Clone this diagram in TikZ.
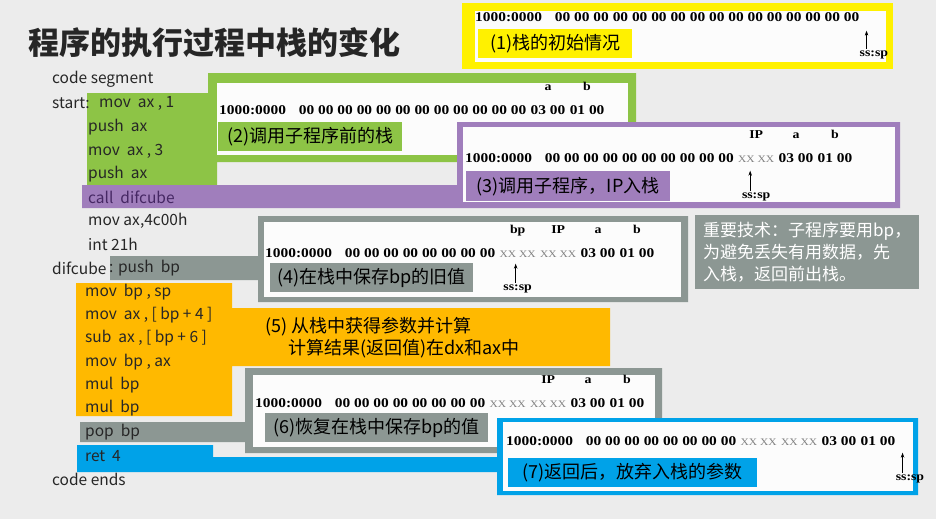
\documentclass[tikz,border=0pt]{standalone}
\usepackage{fontspec}
\setmainfont{Liberation Serif}
\newfontfamily\cjk{Noto Sans CJK SC}
\newfontfamily\memfont{Liberation Serif}[FakeStretch=1.15]
\usetikzlibrary{arrows.meta, positioning}

\definecolor{slidebg}{RGB}{236,236,236}
\definecolor{stackyellow}{RGB}{255,241,0}
\definecolor{stackgreen}{RGB}{141,196,70}
\definecolor{stackpurple}{RGB}{160,126,188}
\definecolor{stackgrey}{RGB}{140,151,147}
\definecolor{stackorange}{RGB}{255,185,0}
\definecolor{stackblue}{RGB}{0,162,232}
\definecolor{calltext}{RGB}{70,40,100}
\definecolor{cellwhite}{RGB}{252,252,252}

\begin{document}
\begin{tikzpicture}[x=1pt, y=-1pt,
    code/.style={anchor=west, inner sep=0pt, text=black!85, font=\cjk\fontsize{15.5}{15.5}\selectfont},
    mem/.style={inner sep=0pt, text height=9pt, text depth=0pt, font=\memfont\bfseries\fontsize{13.4}{13.4}\selectfont},
    memx/.style={mem, text=black!50, font=\memfont\fontsize{10}{10}\selectfont},
    tag/.style={inner sep=0pt, text height=8pt, text depth=2pt, font=\memfont\bfseries\fontsize{12}{12}\selectfont},
    stepbox/.style={fill=#1, anchor=north west, inner sep=0pt, minimum height=29pt, font=\cjk\fontsize{18}{18}\selectfont},
    notebox/.style={fill=stackgrey, text=white, anchor=north west, minimum width=220pt, minimum height=74pt, inner xsep=8pt, align=left, font=\cjk\fontsize{17}{22}\selectfont},
    ptr/.style={-{Stealth[length=5pt, width=3.5pt]}, semithick}
]
\useasboundingbox (0,0) rectangle (936,519);
\fill[slidebg] (0,0) rectangle (936,519);

% Panels
\fill[stackyellow] (462,3) rectangle (893,69);
\fill[cellwhite] (475,11) rectangle (886,62);
\fill[stackgreen] (87,93) -- (208,93) -- (208,73) -- (636,73) -- (636,162) -- (217,162) -- (217,185) -- (87,185) -- cycle;
\fill[cellwhite] (217,83) rectangle (628,155);
\fill[stackpurple] (82,185) -- (457,185) -- (457,122) -- (900,122) -- (900,208) -- (82,208) -- cycle;
\fill[cellwhite] (463,127) rectangle (895,202);
\fill[stackgrey] (110,256) -- (258,256) -- (258,216) -- (688,216) -- (688,302) -- (258,302) -- (258,280) -- (110,280) -- cycle;
\fill[cellwhite] (264,222) rectangle (681,297);
\fill[stackorange] (76,283) -- (232,283) -- (232,308) -- (610,308) -- (610,366) -- (232,366) -- (232,416) -- (76,416) -- cycle;
\fill[stackgrey] (80,422) -- (245,422) -- (245,368) -- (662,368) -- (662,453) -- (245,453) -- (245,442) -- (80,442) -- cycle;
\fill[cellwhite] (253,375) rectangle (655,447);
\fill[stackblue] (77,445) -- (213,445) -- (213,457) -- (497,457) -- (497,418) -- (918,418) -- (918,495) -- (497,495) -- (497,472) -- (77,472) -- cycle;
\fill[cellwhite] (503,422) rectangle (913,491);

% Title
\node[anchor=west, inner sep=0pt, text=black!85, font=\cjk\bfseries\fontsize{31}{31}\selectfont] (title) at (28,43) {程序的执行过程中栈的变化};

% Code
\node[code] (cseg) at (52,79) {code segment};
\node[code] (cstart) at (52,103) {start:};
\node[code] (c1) at (99,103) {mov\ \ ax , 1};
\node[code] (c2) at (88,127) {push\ \ ax};
\node[code] (c3) at (88,151) {mov\ \ ax , 3};
\node[code] (c4) at (88,174) {push\ \ ax};
\node[code, text=calltext] (c5) at (88,197) {call\ \ difcube};
\node[code] (c6) at (88,221) {mov ax,4c00h};
\node[code] (c7) at (88,244) {int 21h};
\node[code] (cproc) at (52,268) {difcube};
\node[code] (c8) at (109,268) {: push\ \ bp};
\node[code] (c9) at (85,292) {mov\ \ bp , sp};
\node[code] (c10) at (85,315) {mov\ \ ax , [ bp + 4 ]};
\node[code] (c11) at (85,338) {sub\ \ ax , [ bp + 6 ]};
\node[code] (c12) at (85,362) {mov\ \ bp , ax};
\node[code] (c13) at (85,385) {mul\ \ bp};
\node[code] (c14) at (85,408) {mul\ \ bp};
\node[code] (c15) at (85,432) {pop\ \ bp};
\node[code] (c16) at (85,456) {ret\ \ 4};
\node[code] (cend) at (52,479) {code ends};

% (1) initial stack
\node[mem, anchor=west] (r1) at (475,17) {1000:0000\hspace{13pt}00 00 00 00 00 00 00 00 00 00 00 00 00 00 00 00};
\node[tag, below right=27pt and 0pt of r1.south east] (ss1) {ss:sp};
\coordinate (t1) at ([xshift=7pt, yshift=-9pt]r1.south east);
\draw[ptr] (ss1.north -| t1) -- (t1);
\node[stepbox=stackyellow, minimum width=154pt] (s1) at (478,29) {(1)栈的初始情况};

% (2) before the call
\node[mem, anchor=west] (r2) at (219,110) {1000:0000\hspace{13pt}00 00 00 00 00 00 00 00 00 00 00 00};
\node[mem, right=4pt of r2] (r2a) {03 00};
\node[mem, right=4pt of r2a] (r2b) {01 00};
\node[tag, above=13pt of r2a] (a2) {a};
\node[tag, above=13pt of r2b] (b2) {b};
\node[stepbox=stackgreen, minimum width=184pt] (s2) at (218,122) {(2)调用子程序前的栈};

% (3) call, IP pushed
\node[mem, anchor=west] (r3) at (465,158) {1000:0000\hspace{13pt}00 00 00 00 00 00 00 00 00 00};
\node[memx, right=4pt of r3] (r3ip) {XX XX};
\node[mem, right=4pt of r3ip] (r3a) {03 00};
\node[mem, right=4pt of r3a] (r3b) {01 00};
\node[tag, above=13pt of r3ip] (ip3) {IP};
\node[tag, above=13pt of r3a] (a3) {a};
\node[tag, above=13pt of r3b] (b3) {b};
\node[tag, below=28pt of r3ip] (ss3) {ss:sp};
\coordinate (t3) at ([xshift=-6pt, yshift=-8pt]r3ip.south);
\draw[ptr] (ss3.north -| t3) -- (t3);
\node[stepbox=stackpurple, minimum width=204pt, minimum height=30pt] (s3) at (466,171) {(3)调用子程序，IP入栈};

% (4) bp saved
\node[mem, anchor=west] (r4) at (265,253) {1000:0000\hspace{13pt}00 00 00 00 00 00 00 00};
\node[memx, right=4pt of r4] (r4bp) {XX XX};
\node[memx, right=4pt of r4bp] (r4ip) {XX XX};
\node[mem, right=4pt of r4ip] (r4a) {03 00};
\node[mem, right=4pt of r4a] (r4b) {01 00};
\node[tag, above=13pt of r4bp] (bp4) {bp};
\node[tag, above=13pt of r4ip] (ip4) {IP};
\node[tag, above=13pt of r4a] (a4) {a};
\node[tag, above=13pt of r4b] (b4) {b};
\node[tag, below=25pt of r4bp] (ss4) {ss:sp};
\coordinate (t4) at ([xshift=-2pt, yshift=-6pt]r4bp.south);
\draw[ptr] (ss4.north -| t4) -- (t4);
\node[stepbox=stackgrey, minimum width=203pt] (s4) at (270,263) {(4)在栈中保存bp的旧值};

% Note
\node[notebox] (tip) at (695,215) {重要技术：子程序要用bp，\\为避免丢失有用数据，先\\入栈，返回前出栈。};

% (5) compute
\node[anchor=north west, inner sep=0pt, align=left, font=\cjk\fontsize{18}{22}\selectfont] (s5) at (265,317) {(5) 从栈中获得参数并计算\\\hspace*{23pt}计算结果(返回值)在dx和ax中};

% (6) bp restored
\node[mem, anchor=west] (r6) at (255,403) {1000:0000\hspace{13pt}00 00 00 00 00 00 00 00};
\node[memx, right=4pt of r6] (r6bp) {XX XX};
\node[memx, right=4pt of r6bp] (r6ip) {XX XX};
\node[mem, right=4pt of r6ip] (r6a) {03 00};
\node[mem, right=4pt of r6a] (r6b) {01 00};
\node[tag, above=13pt of r6ip] (ip6) {IP};
\node[tag, above=13pt of r6a] (a6) {a};
\node[tag, above=13pt of r6b] (b6) {b};
\node[stepbox=stackgrey, minimum width=223pt] (s6) at (265,413) {(6)恢复在栈中保存bp的值};

% (7) after return
\node[mem, anchor=west] (r7) at (506,441) {1000:0000\hspace{13pt}00 00 00 00 00 00 00 00};
\node[memx, right=4pt of r7] (r7bp) {XX XX};
\node[memx, right=4pt of r7bp] (r7ip) {XX XX};
\node[mem, right=4pt of r7ip] (r7a) {03 00};
\node[mem, right=4pt of r7a] (r7b) {01 00};
\node[tag, below right=27pt and 0pt of r7b.south east] (ss7) {ss:sp};
\coordinate (t7) at ([xshift=7pt, yshift=-7pt]r7b.south east);
\draw[ptr] (ss7.north -| t7) -- (t7);
\node[stepbox=stackblue, minimum width=249pt] (s7) at (508,458) {(7)返回后，放弃入栈的参数};

\end{tikzpicture}
\end{document}
